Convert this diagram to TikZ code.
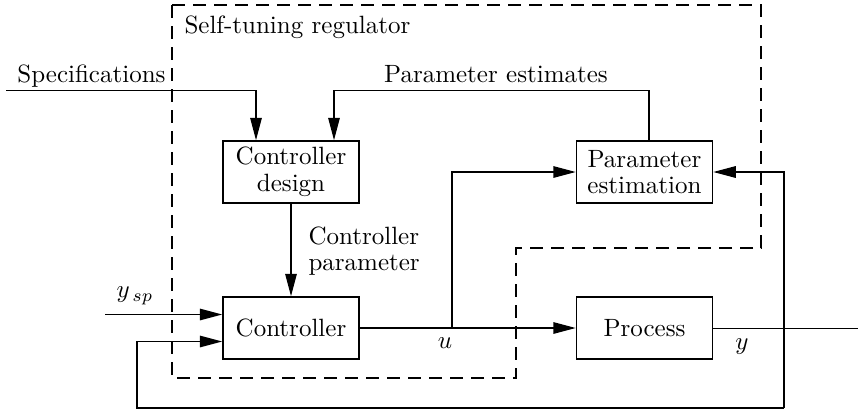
\documentclass[tikz,border=0pt]{standalone}
\usepackage{tikz}
\usetikzlibrary{arrows.meta}
\tikzset{
    BX/.style ={rectangle,minimum width = 54.4pt, minimum height = 24.8pt, inner sep=0pt, draw, line width=0.6pt, align=center},
    AR/.style ={-{Triangle[length=9pt,width=4.6pt]}, line width=0.6pt},
    DA/.style ={dash pattern=on 5.2pt off 3.2pt, line width=0.6pt},
    LB/.style ={inner sep=0pt}}

\begin{document}
\begin{tikzpicture}[x=0.4pt,y=0.4pt,every node/.style={font=\fontsize{10}{10.6}\selectfont}]
        \useasboundingbox (0,0) rectangle (858,409);
        % self-tuning part
        \draw[DA] (172,404) -- (761,404) -- (761,161) -- (516,161) -- (516,31) -- (172,31) -- cycle;
        \node[LB,anchor=base west] (t) at (184,376){Self-tuning regulator};
        \node[BX] (1) at (291,237){Controller\\design};
        \node[BX] (2) at (291,81){Controller};
        \node[BX] (3) at (644.5,237){Parameter\\estimation};
        \node[BX] (4) at (644.5,81){Process};
        \coordinate (s) at (6,318.5);
        \coordinate (r) at (105,94.5);
        \coordinate (o) at (858,81);
        \coordinate (f1) at (784,1);
        \coordinate (f2) at (137,1);
        \coordinate (b) at (452,81);
        \node[LB,anchor=base east] (5) at (166,327){Specifications};
        \node[LB,anchor=base] (6) at (496,327){Parameter estimates};
        \node[LB,anchor=west,align=left] (7) at (308,158){Controller\\parameter};
        \node[LB] (8) at (135,113){$y_{\,sp}$};
        \node[LB] (9) at (445,66){$u$};
        \node[LB] (10) at (742,62){$y$};
        % signals
        \draw[AR] (s) -| ([xshift=-14pt]1.north);
        \draw[AR] ([xshift=1.7pt]3.north) |- ([xshift=17.2pt]1.north |- s) -- ([xshift=17.2pt]1.north);
        \draw[AR] (1) -- (2);
        \draw[AR] (2) -- (4);
        \draw[AR] (b) |- (3);
        \draw[AR] (r) -- (r -| 2.west);
        \draw (4) -- (o);
        \draw[AR] (f1) |- (3.east);
        \draw[AR] (f1) -- (f2) |- ([yshift=-5.4pt]2.west);
    \end{tikzpicture}
\end{document}
